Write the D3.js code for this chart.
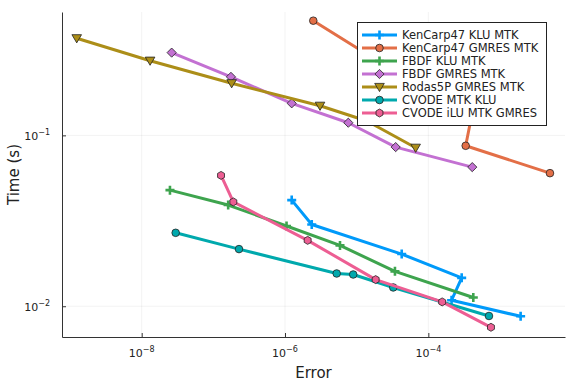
<!DOCTYPE html>
<html>
<head>
<meta charset="utf-8">
<script src="https://cdn.jsdelivr.net/npm/d3@7"></script>
<style>
  body { margin: 0; background: #fff; }
  svg { font-family: "DejaVu Sans", sans-serif; }
</style>
</head>
<body>
<svg id="chart" width="576" height="384"></svg>
<script>
// series names, colours and markers
const names = ["KenCarp47 KLU MTK", "KenCarp47 GMRES MTK", "FBDF KLU MTK", "FBDF GMRES MTK",
  "Rodas5P GMRES MTK", "CVODE MTK KLU", "CVODE iLU MTK GMRES"];
const colors = ["#009AFA", "#E36F47", "#3EA44E", "#C371D2", "#AC8E18", "#00A9AD", "#ED5E93"];
const markers = ["cross", "circle", "cross", "diamond", "dtriangle", "circle", "hexagon"];

// error / time values
const kencarpKluErr = [1.24e-6, 2.36e-6, 4.25e-5, 2.92e-4, 2.11e-4, 1.94e-3];
const kencarpKluTime = [0.0418, 0.0301, 0.0202, 0.01466, 0.01084, 0.00873];
const kencarpGmresErr = [2.48e-6, 3.94e-4, 3.32e-4, 4.98e-3];
const kencarpGmresTime = [0.469, 0.1246, 0.0869, 0.0601];
const fbdfKluErr = [2.48e-8, 1.61e-7, 1.05e-6, 5.85e-6, 3.42e-5, 4.24e-4];
const fbdfKluTime = [0.0478, 0.0391, 0.0295, 0.0227, 0.0160, 0.01125];
const fbdfGmresErr = [2.62e-8, 1.76e-7, 1.24e-6, 7.64e-6, 3.50e-5, 4.10e-4];
const fbdfGmresTime = [0.305, 0.220, 0.154, 0.1186, 0.0854, 0.0652];
const rodasErr = [1.24e-9, 1.31e-8, 1.80e-7, 3.08e-6, 1.39e-5, 6.65e-5];
const rodasTime = [0.370, 0.2735, 0.2018, 0.149, 0.1213, 0.0846];
const cvodeKluErr = [2.98e-8, 2.28e-7, 5.26e-6, 8.95e-6, 3.24e-5, 7.02e-4];
const cvodeKluTime = [0.0269, 0.0216, 0.01555, 0.01534, 0.01288, 0.00877];
const cvodeGmresErr = [1.28e-7, 1.90e-7, 2.07e-6, 1.84e-5, 1.56e-4, 7.48e-4];
const cvodeGmresTime = [0.0583, 0.0408, 0.0243, 0.01432, 0.01060, 0.00753];

const xTicks = [1e-8, 1e-6, 1e-4];
const xTickExp = ["−8", "−6", "−4"];
const yTicks = [1e-2, 1e-1];
const yTickExp = ["−2", "−1"];

const errs = [kencarpKluErr, kencarpGmresErr, fbdfKluErr, fbdfGmresErr, rodasErr, cvodeKluErr, cvodeGmresErr];
const times = [kencarpKluTime, kencarpGmresTime, fbdfKluTime, fbdfGmresTime, rodasTime, cvodeKluTime, cvodeGmresTime];
const series = names.map((n, i) => ({
  name: n, color: colors[i], marker: markers[i],
  pts: errs[i].map((e, j) => [e, times[i][j]])
}));

const L = 62, R = 565, T = 12, B = 337;
const x = d3.scaleLog().domain([Math.pow(10, -9.112), Math.pow(10, -2.093)]).range([L, R]);
const y = d3.scaleLog().domain([Math.pow(10, -2.18), Math.pow(10, -0.278)]).range([B, T]);

const svg = d3.select("#chart");

// grid
svg.append("g").selectAll("line").data(xTicks).enter().append("line")
  .attr("x1", d => x(d)).attr("x2", d => x(d)).attr("y1", T).attr("y2", B)
  .attr("stroke", "#000").attr("stroke-opacity", 0.1).attr("stroke-width", 0.5);
svg.append("g").selectAll("line").data(yTicks).enter().append("line")
  .attr("y1", d => y(d)).attr("y2", d => y(d)).attr("x1", L).attr("x2", R)
  .attr("stroke", "#000").attr("stroke-opacity", 0.1).attr("stroke-width", 0.5);

// axes
const xAxis = svg.append("g").attr("transform", `translate(0,${B})`)
  .call(d3.axisBottom(x).tickValues(xTicks).tickSizeInner(-4).tickSizeOuter(0).tickFormat(""));
const yAxis = svg.append("g").attr("transform", `translate(${L},0)`)
  .call(d3.axisLeft(y).tickValues(yTicks).tickSizeInner(-4).tickSizeOuter(0).tickFormat(""));
[xAxis, yAxis].forEach(a => {
  a.select(".domain").attr("stroke", "#333").attr("stroke-width", 1);
  a.selectAll(".tick line").attr("stroke", "#333");
});

const xl = svg.append("g").selectAll("text").data(xTicks).enter().append("text")
  .attr("x", d => x(d)).attr("y", 357).attr("text-anchor", "middle")
  .attr("font-size", 11).attr("fill", "#222");
xl.append("tspan").text("10");
xl.append("tspan").attr("dy", -5).attr("font-size", 8).text((d, i) => xTickExp[i]);

const yl = svg.append("g").selectAll("text").data(yTicks).enter().append("text")
  .attr("x", 50).attr("y", d => y(d) + 5).attr("text-anchor", "end")
  .attr("font-size", 11).attr("fill", "#222");
yl.append("tspan").text("10");
yl.append("tspan").attr("dy", -5).attr("font-size", 8).text((d, i) => yTickExp[i]);

svg.append("text").attr("x", (L + R) / 2).attr("y", 378).attr("text-anchor", "middle")
  .attr("font-size", 15).attr("fill", "#222").text("Error");
svg.append("text").attr("transform", `translate(19,${(T + B) / 2}) rotate(-90)`)
  .attr("text-anchor", "middle").attr("font-size", 15).attr("fill", "#222").text("Time (s)");

// marker drawing
function drawMarker(g, type, color, cx, cy) {
  if (type === "cross") {
    g.append("path").attr("d", `M${cx - 4.5},${cy}H${cx + 4.5}M${cx},${cy - 4.5}V${cy + 4.5}`)
      .attr("stroke", color).attr("stroke-width", 2.6).attr("fill", "none");
    return;
  }
  let p;
  if (type === "circle") {
    p = g.append("circle").attr("cx", cx).attr("cy", cy).attr("r", 3.8);
  } else if (type === "diamond") {
    p = g.append("path").attr("d", `M${cx},${cy - 4.6}L${cx + 4.6},${cy}L${cx},${cy + 4.6}L${cx - 4.6},${cy}Z`);
  } else if (type === "dtriangle") {
    p = g.append("path").attr("d", `M${cx - 4.8},${cy - 3.6}L${cx + 4.8},${cy - 3.6}L${cx},${cy + 4.6}Z`);
  } else {
    const pts = d3.range(6).map(k => {
      const a = Math.PI / 6 + k * Math.PI / 3;
      return [cx + 4 * Math.cos(a), cy + 4 * Math.sin(a)];
    });
    p = g.append("path").attr("d", "M" + pts.join("L") + "Z");
  }
  p.attr("fill", color).attr("stroke", "#222").attr("stroke-width", 0.8);
}

// series
const line = d3.line().x(d => x(d[0])).y(d => y(d[1]));
series.forEach(s => {
  const g = svg.append("g");
  g.append("path").datum(s.pts).attr("d", line)
    .attr("fill", "none").attr("stroke", s.color).attr("stroke-width", 3)
    .attr("stroke-linejoin", "round");
  s.pts.forEach(p => drawMarker(g, s.marker, s.color, x(p[0]), y(p[1])));
});

// legend
const lg = svg.append("g");
lg.append("rect").attr("x", 357.5).attr("y", 22.5).attr("width", 189).attr("height", 103)
  .attr("fill", "#fff").attr("stroke", "#222").attr("stroke-width", 1);
series.forEach((s, i) => {
  const cy = 35 + i * 13;
  lg.append("line").attr("x1", 362).attr("x2", 397).attr("y1", cy).attr("y2", cy)
    .attr("stroke", s.color).attr("stroke-width", 3);
  drawMarker(lg, s.marker, s.color, 379.5, cy);
  lg.append("text").attr("x", 402).attr("y", cy + 4).attr("font-size", 11.5)
    .attr("fill", "#222").text(s.name);
});
</script>
</body>
</html>
